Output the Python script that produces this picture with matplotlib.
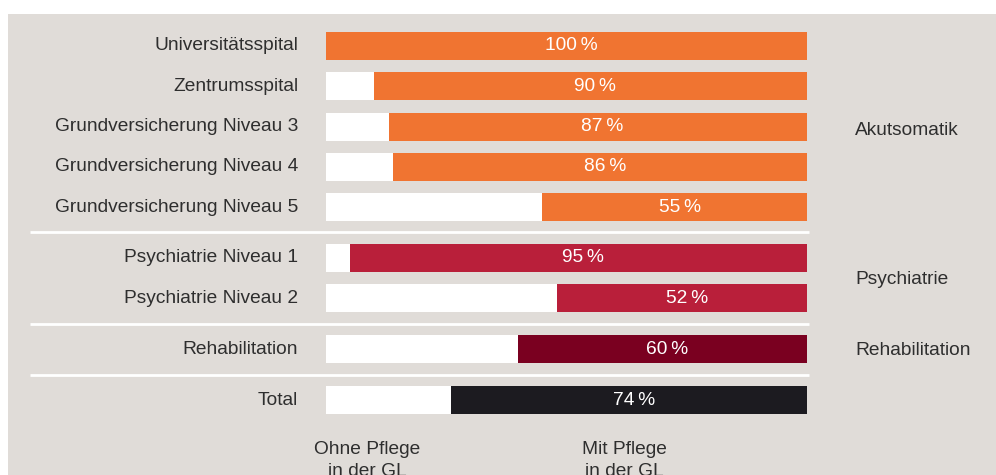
import matplotlib
matplotlib.use("Agg")
import matplotlib.pyplot as plt
from matplotlib.patches import Rectangle

plt.rcParams['font.family'] = ['Liberation Sans', 'DejaVu Sans']

categories = ["Universitätsspital", "Zentrumsspital", "Grundversicherung Niveau 3",
              "Grundversicherung Niveau 4", "Grundversicherung Niveau 5",
              "Psychiatrie Niveau 1", "Psychiatrie Niveau 2",
              "Rehabilitation", "Total"]
mit_pflege = [100, 90, 87, 86, 55, 95, 52, 60, 74]
group_of = [0, 0, 0, 0, 0, 1, 1, 2, 3]
group_names = ["Akutsomatik", "Psychiatrie", "Rehabilitation", ""]
group_colors = ["#f07431", "#b91f3a", "#7a0020", "#1c1b20"]
col_labels = ["Ohne Pflege\nin der GL", "Mit Pflege\nin der GL"]

W, H = 996, 475
fig = plt.figure(figsize=(W / 100, H / 100), dpi=100)
fig.patch.set_facecolor("white")
bg = Rectangle((8 / W, 0), (W - 8) / W, (H - 14) / H,
               transform=fig.transFigure, facecolor="#e0dcd8",
               edgecolor="none", zorder=-10)
fig.add_artist(bg)

unit = 40.25          # pixels per row
row0 = 46             # pixel y of first row center
gap = 0.267           # extra gap between groups (rows)
ax = fig.add_axes([326 / W, 0, 481 / W, 1])
ax.set_zorder(5)
ax.set_facecolor("none")
ax.set_xlim(0, 100)
ax.set_ylim((H - row0) / unit, -row0 / unit)
ax.axis("off")

ypos = [i + gap * g for i, g in enumerate(group_of)]
bh = 28 / unit
txt = "#2e2e2e"
fs = 13.8

for y, cat, v, g in zip(ypos, categories, mit_pflege, group_of):
    ax.barh(y, 100 - v, left=0, height=bh, color="white", edgecolor="none")
    ax.barh(y, v, left=100 - v, height=bh, color=group_colors[g], edgecolor="none")
    ax.text(100 - v / 2 + 1, y, f"{v}\u2009%", ha="center", va="center",
            color="white", fontsize=fs)
    ax.text(-5.8, y, cat, ha="right", va="center", color=txt, fontsize=fs)

# separators and group labels
ngroups = max(group_of) + 1
for g in range(ngroups):
    ys = [y for y, gg in zip(ypos, group_of) if gg == g]
    if group_names[g]:
        off = 0.1 if g == 0 else 0.04
        ax.text(110, sum(ys) / len(ys) + off, group_names[g], ha="left",
                va="center", color=txt, fontsize=fs)
    if g < ngroups - 1:
        nxt = [y for y, gg in zip(ypos, group_of) if gg == g + 1]
        ysep = (max(ys) + min(nxt)) / 2
        ax.plot([-61.5, 100.4], [ysep, ysep], color="white", lw=2,
                clip_on=False, solid_capstyle="butt")

for xc, lab in zip([8.5, 62], col_labels):
    for k, line in enumerate(lab.split("\n")):
        ax.text(xc, ypos[-1] + 1.336 + 0.547 * k, line, ha="center",
                va="baseline", color=txt, fontsize=fs)

fig.savefig("out.png", dpi=100)
